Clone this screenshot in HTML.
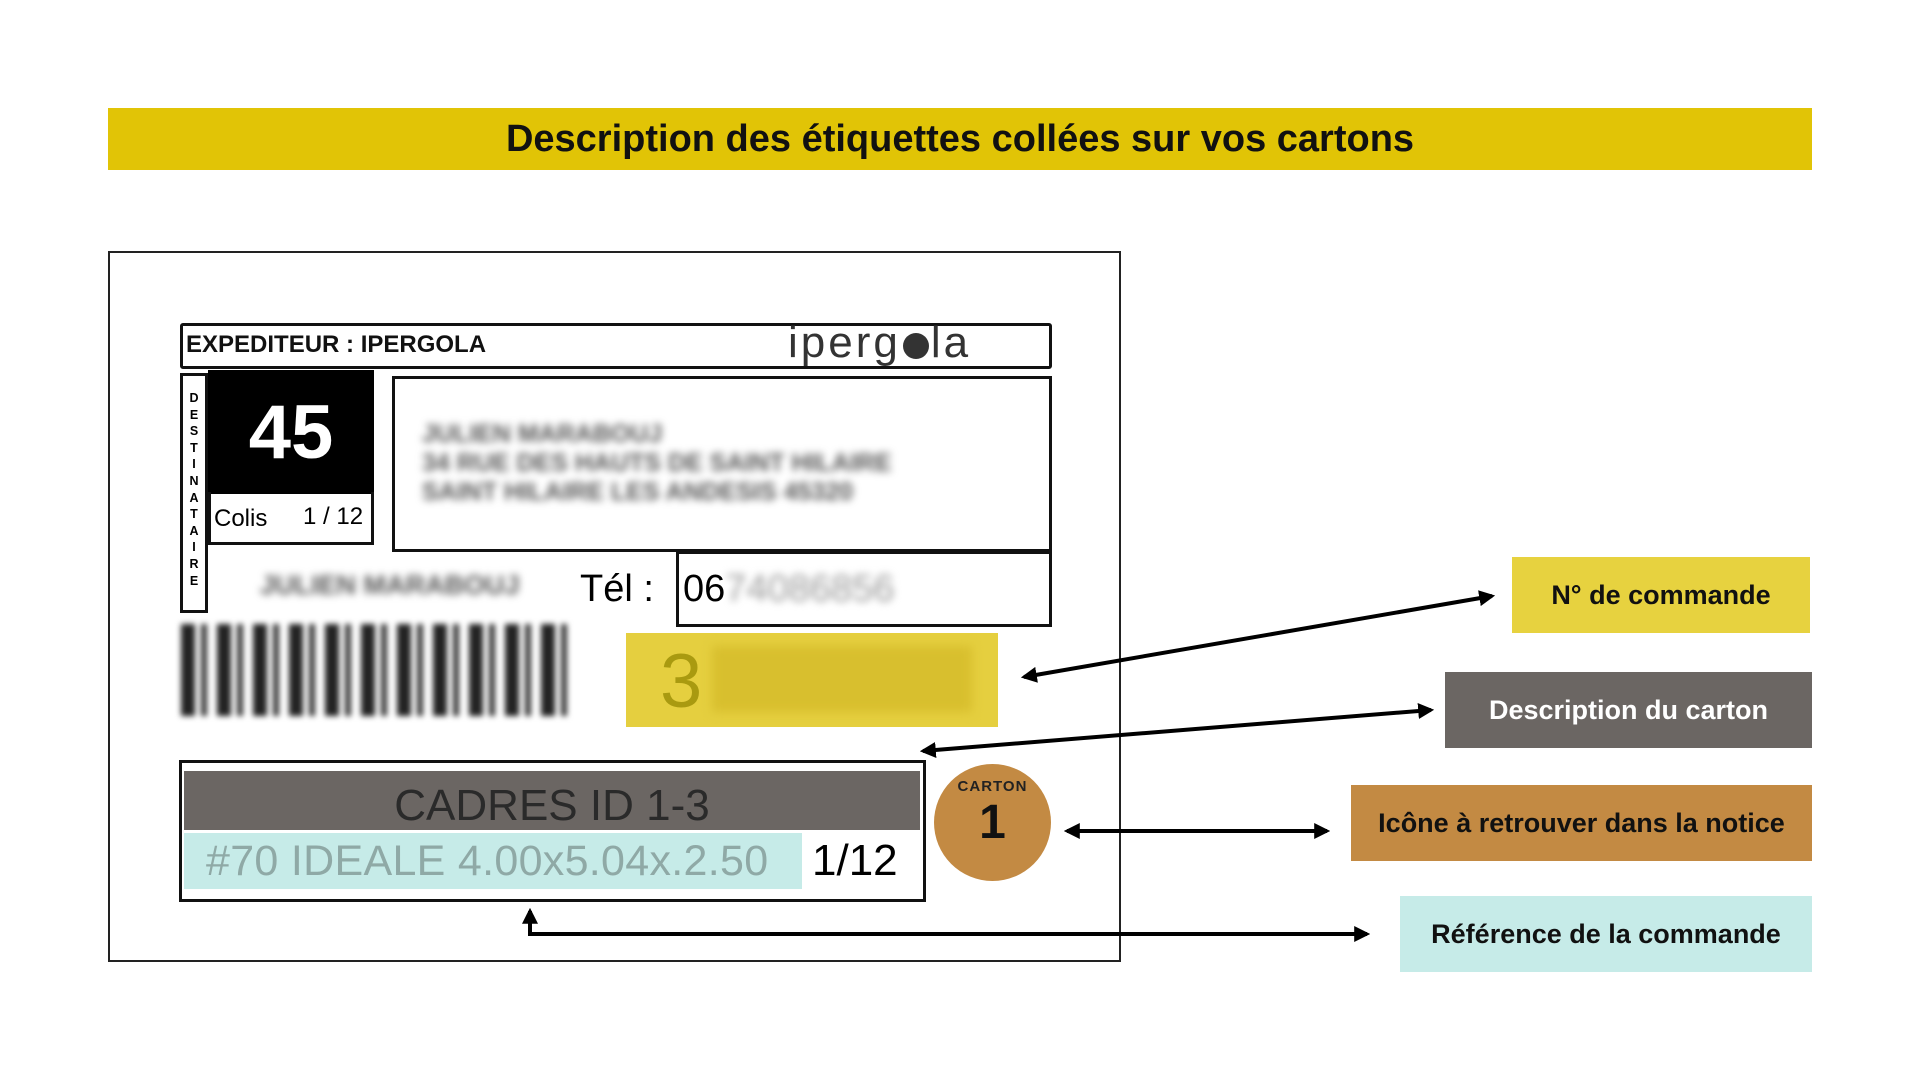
<!DOCTYPE html>
<html><head><meta charset="utf-8"><style>
*{margin:0;padding:0;box-sizing:border-box}
body{width:1920px;height:1080px;background:#fff;position:relative;overflow:hidden;font-family:"Liberation Sans",sans-serif}
.a{position:absolute}
.bx{position:absolute;border:3px solid #111}
.lab{position:absolute;display:flex;align-items:center;justify-content:center;font-weight:bold;font-size:27px}
.blur{filter:blur(4px);color:#555}
</style></head><body>
<div class="a" style="left:108px;top:108px;width:1704px;height:62px;background:#e1c406;display:flex;align-items:center;justify-content:center;font-weight:bold;font-size:38px;color:#111">Description des étiquettes collées sur vos cartons</div>
<div class="a" style="left:108px;top:251px;width:1013px;height:711px;border:2px solid #222"></div>

<div class="bx" style="left:180px;top:323px;width:872px;height:46px;border-radius:3px"></div>
<div class="a" style="left:186px;top:331px;font-weight:bold;font-size:24px;color:#111">EXPEDITEUR : IPERGOLA</div>
<div class="a" style="left:788px;top:318px;font-size:44px;color:#333;letter-spacing:3px;font-weight:300">iperg<span style="display:inline-block;width:26px;height:26px;border-radius:50%;background:#333;vertical-align:-2px;margin:0 2px"></span>la</div>

<div class="bx" style="left:180px;top:373px;width:28px;height:240px"></div>
<div class="a" style="left:186px;top:390px;width:16px;font-weight:bold;font-size:12.5px;line-height:16.6px;text-align:center">D<br>E<br>S<br>T<br>I<br>N<br>A<br>T<br>A<br>I<br>R<br>E</div>
<div class="a" style="left:208px;top:370px;width:166px;height:124px;background:#000;color:#fff;font-weight:bold;font-size:76px;display:flex;align-items:center;justify-content:center">45</div>
<div class="bx" style="left:208px;top:492px;width:166px;height:53px;border-top:none"></div>
<div class="a" style="left:214px;top:505px;font-size:24px">Colis</div>
<div class="a" style="left:303px;top:503px;font-size:24px">1 / 12</div>

<div class="bx" style="left:392px;top:376px;width:660px;height:176px"></div>
<div class="a blur" style="left:422px;top:420px;font-size:25px;line-height:29px;font-weight:bold">JULIEN MARABOUJ<br>34 RUE DES HAUTS DE SAINT HILAIRE<br>SAINT HILAIRE LES ANDESIS 45320</div>
<div class="a blur" style="left:260px;top:570px;font-size:27px;font-weight:bold">JULIEN MARABOUJ</div>
<div class="a" style="left:580px;top:568px;font-size:38px">Tél :</div>
<div class="bx" style="left:676px;top:551px;width:376px;height:76px"></div>
<div class="a" style="left:683px;top:568px;font-size:38px">06<span style="filter:blur(4px);color:#999">74086856</span></div>

<div class="a" style="left:181px;top:624px;width:392px;height:92px;filter:blur(3px);background:repeating-linear-gradient(90deg,#222 0 14px,#fff 14px 20px,#333 20px 26px,#fff 26px 36px)"></div>

<div class="a" style="left:626px;top:633px;width:372px;height:94px;background:#e5cf3f"></div>
<div class="a" style="left:660px;top:638px;font-size:76px;color:#a99a10">3</div>
<div class="a" style="left:712px;top:646px;width:260px;height:66px;background:#d8bf2e;filter:blur(5px)"></div>

<div class="bx" style="left:179px;top:760px;width:747px;height:142px"></div>
<div class="a" style="left:184px;top:771px;width:736px;height:59px;background:#6b6663;color:#2a2a2a;font-size:44px;display:flex;align-items:flex-end;justify-content:center;line-height:48px">CADRES ID 1-3</div>
<div class="a" style="left:184px;top:833px;width:618px;height:56px;background:#c6ebe8;color:#8fa9a6;font-size:43px;line-height:56px;padding-left:22px;letter-spacing:0.3px">#70 IDEALE 4.00x5.04x.2.50</div>
<div class="a" style="left:812px;top:833px;font-size:44px;line-height:56px">1/12</div>

<div class="a" style="left:934px;top:764px;width:117px;height:117px;border-radius:50%;background:#c38a43"></div>
<div class="a" style="left:934px;top:778px;width:117px;text-align:center;font-weight:bold;font-size:15px;color:#222;letter-spacing:1px">CARTON</div>
<div class="a" style="left:934px;top:795px;width:117px;text-align:center;font-weight:bold;font-size:48px;color:#111">1</div>

<div class="lab" style="left:1512px;top:557px;width:298px;height:76px;background:#e7d23f;color:#111">N° de commande</div>
<div class="lab" style="left:1445px;top:672px;width:367px;height:76px;background:#6b6663;color:#fff">Description du carton</div>
<div class="lab" style="left:1351px;top:785px;width:461px;height:76px;background:#c38a43;color:#111">Icône à retrouver dans la notice</div>
<div class="lab" style="left:1400px;top:896px;width:412px;height:76px;background:#c6ebe8;color:#111">Référence de la commande</div>

<svg class="a" style="left:0;top:0" width="1920" height="1080">
<defs><marker id="m" viewBox="0 0 10 10" refX="8" refY="5" markerWidth="4" markerHeight="4" orient="auto-start-reverse"><path d="M0,0L10,5L0,10z" fill="#000"/></marker></defs>
<g stroke="#000" stroke-width="4" fill="none">
<line x1="1024" y1="677" x2="1492" y2="596" marker-start="url(#m)" marker-end="url(#m)"/>
<line x1="923" y1="751" x2="1431" y2="710" marker-start="url(#m)" marker-end="url(#m)"/>
<line x1="1067" y1="831" x2="1327" y2="831" marker-start="url(#m)" marker-end="url(#m)"/>
<polyline points="530,911 530,934 1367,934" marker-start="url(#m)" marker-end="url(#m)"/>
</g></svg>
</body></html>
